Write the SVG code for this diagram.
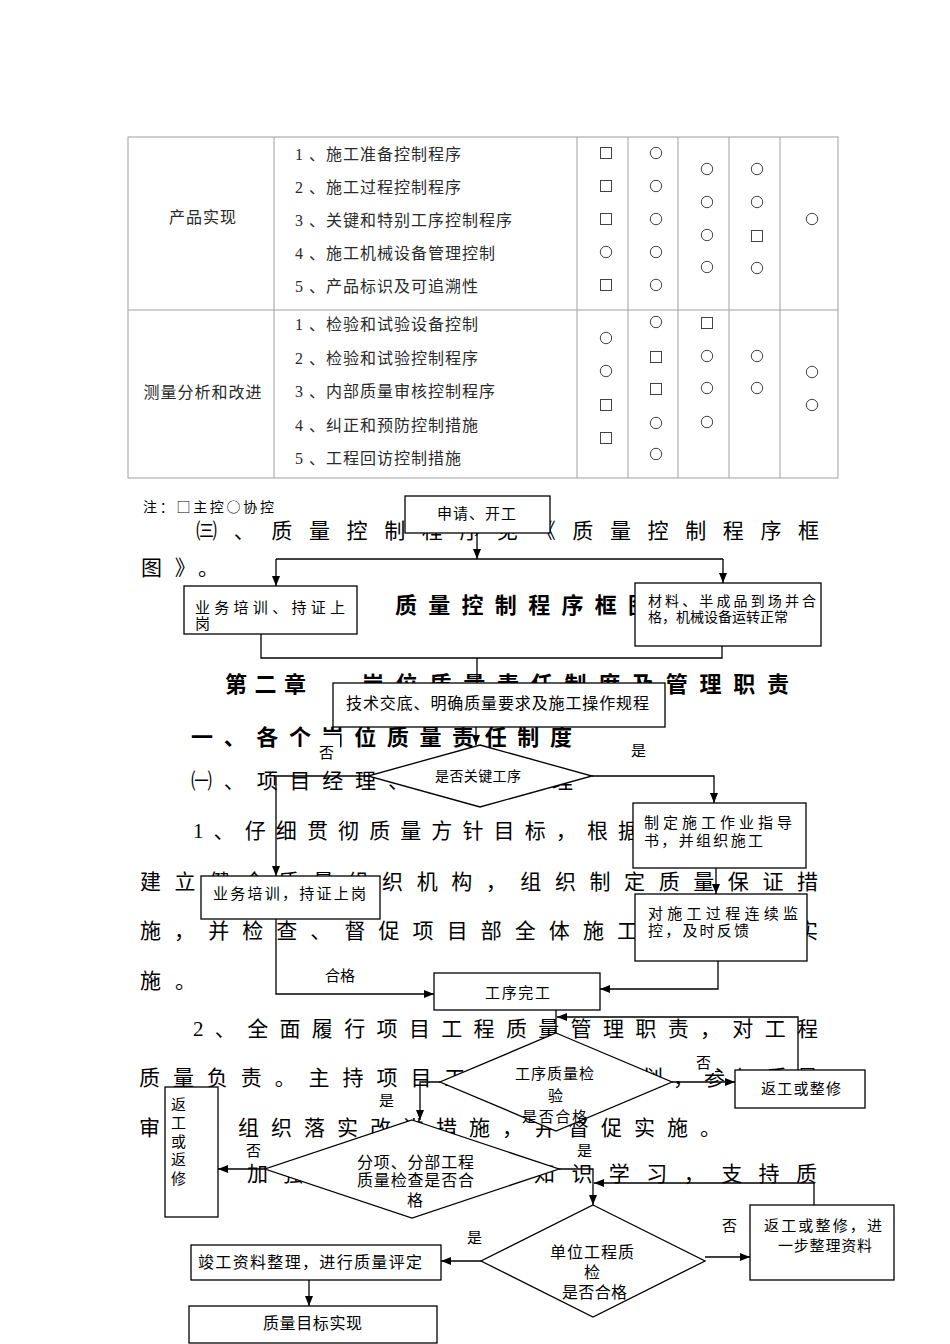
<svg xmlns="http://www.w3.org/2000/svg" width="950" height="1344" viewBox="0 0 950 1344">
<style>
.bg{fill:#fff}
.tl{stroke:#a0a0a0;stroke-width:1;fill:none}
.sym{stroke:#444;stroke-width:1;fill:none}
.tt{font-family:"Liberation Serif","Noto Sans CJK SC",sans-serif;font-size:16px;fill:#2a2a2a;letter-spacing:1px}
.body{font-family:"Liberation Serif","Noto Sans CJK SC",sans-serif;font-size:21px;fill:#000}
.bold{font-family:"Noto Sans CJK SC",sans-serif;font-size:22px;font-weight:bold;fill:#000}
.note{font-family:"Noto Sans CJK SC",sans-serif;font-size:14px;fill:#000}
.nd{fill:#fff;stroke:#000;stroke-width:1.3}
.ft{font-family:"Noto Sans CJK SC",sans-serif;font-size:15px;fill:#000}
.f14{font-size:14px}
.f16{font-size:16px}
.cn{fill:none;stroke:#000;stroke-width:1.3}
.lb{fill:#fff}
</style>
<defs>
<marker id="ah" viewBox="0 0 10 10" refX="10" refY="5" markerWidth="10" markerHeight="10" orient="auto" markerUnits="userSpaceOnUse"><path d="M0,1 L10,5 L0,9 z" fill="#000"/></marker>
<circle id="c" r="5.7" class="sym"/>
<rect id="s" x="-5.5" y="-5.5" width="11" height="11" class="sym"/>
</defs>
<rect class="bg" width="950" height="1344"/>

<g id="table">
<rect class="tl" x="128" y="137" width="710" height="341"/>
<line class="tl" x1="128" y1="310" x2="838" y2="310"/>
<line class="tl" x1="274" y1="137" x2="274" y2="478"/>
<line class="tl" x1="577" y1="137" x2="577" y2="478"/>
<line class="tl" x1="628" y1="137" x2="628" y2="478"/>
<line class="tl" x1="678" y1="137" x2="678" y2="478"/>
<line class="tl" x1="729" y1="137" x2="729" y2="478"/>
<line class="tl" x1="780" y1="137" x2="780" y2="478"/>
<text class="tt" x="203" y="223" text-anchor="middle">产品实现</text>
<text class="tt" x="203" y="398" text-anchor="middle">测量分析和改进</text>
<g>
<text class="tt" x="295" y="160">1</text><text class="tt" x="309" y="160">、施工准备控制程序</text>
<text class="tt" x="295" y="193">2</text><text class="tt" x="309" y="193">、施工过程控制程序</text>
<text class="tt" x="295" y="226">3</text><text class="tt" x="309" y="226">、关键和特别工序控制程序</text>
<text class="tt" x="295" y="259">4</text><text class="tt" x="309" y="259">、施工机械设备管理控制</text>
<text class="tt" x="295" y="292">5</text><text class="tt" x="309" y="292">、产品标识及可追溯性</text>
<text class="tt" x="295" y="330">1</text><text class="tt" x="309" y="330">、检验和试验设备控制</text>
<text class="tt" x="295" y="364">2</text><text class="tt" x="309" y="364">、检验和试验控制程序</text>
<text class="tt" x="295" y="397">3</text><text class="tt" x="309" y="397">、内部质量审核控制程序</text>
<text class="tt" x="295" y="431">4</text><text class="tt" x="309" y="431">、纠正和预防控制措施</text>
<text class="tt" x="295" y="464">5</text><text class="tt" x="309" y="464">、工程回访控制措施</text>
</g>
<g>
<use href="#s" x="606" y="153"/><use href="#s" x="606" y="186"/><use href="#s" x="606" y="219"/><use href="#c" x="606" y="252"/><use href="#s" x="606" y="285"/>
<use href="#c" x="606" y="338"/><use href="#c" x="606" y="371"/><use href="#s" x="606" y="405"/><use href="#s" x="606" y="438"/>
<use href="#c" x="656" y="153"/><use href="#c" x="656" y="186"/><use href="#c" x="656" y="219"/><use href="#c" x="656" y="252"/><use href="#c" x="656" y="285"/>
<use href="#c" x="656" y="322"/><use href="#s" x="656" y="357"/><use href="#s" x="656" y="389"/><use href="#c" x="656" y="423"/><use href="#c" x="656" y="454"/>
<use href="#c" x="707" y="169"/><use href="#c" x="707" y="202"/><use href="#c" x="707" y="235"/><use href="#c" x="707" y="267"/>
<use href="#s" x="707" y="323"/><use href="#c" x="707" y="356"/><use href="#c" x="707" y="388"/><use href="#c" x="707" y="422"/>
<use href="#c" x="757" y="169"/><use href="#c" x="757" y="202"/><use href="#s" x="757" y="236"/><use href="#c" x="757" y="268"/>
<use href="#c" x="757" y="356"/><use href="#c" x="757" y="388"/>
<use href="#c" x="812" y="219"/>
<use href="#c" x="812" y="372"/><use href="#c" x="812" y="405"/>
</g>
</g>

<g id="body-text">
<text class="note" x="143" y="512" textLength="131" lengthAdjust="spacing">注：□主控○协控</text>
<text class="body" x="196" y="538" textLength="623" lengthAdjust="spacing">㈢、质量控制程序见《质量控制程序框</text>
<text class="body" x="141" y="575" textLength="78" lengthAdjust="spacing">图》。</text>
<text class="bold" x="395" y="613" textLength="255" lengthAdjust="spacing">质量控制程序框图</text>
<text class="bold" x="225" y="692" textLength="81" lengthAdjust="spacing">第二章</text>
<text class="bold" x="362" y="692" textLength="427" lengthAdjust="spacing">岗位质量责任制度及管理职责</text>
<text class="bold" x="191" y="745" textLength="381" lengthAdjust="spacing">一、各个岗位质量责任制度</text>
<text class="body" x="191" y="788" textLength="382" lengthAdjust="spacing">㈠、项目经理、项目副经理</text>
<text class="body" x="193" y="838" textLength="446" lengthAdjust="spacing">1、仔细贯彻质量方针目标，根据</text>
<text class="body" x="140" y="889" textLength="678" lengthAdjust="spacing">建立健全质量组织机构，组织制定质量保证措</text>
<text class="body" x="140" y="938" textLength="498" lengthAdjust="spacing">施，并检查、督促项目部全体施工</text>
<text class="body" x="797" y="938">实</text>
<text class="body" x="140" y="988" textLength="56" lengthAdjust="spacing">施。</text>
<text class="body" x="193" y="1036" textLength="625" lengthAdjust="spacing">2、全面履行项目工程质量管理职责，对工程</text>
<text class="body" x="139" y="1085" textLength="462" lengthAdjust="spacing">质量负责。主持项目工程质量计</text>
<text class="body" x="642" y="1085" textLength="176" lengthAdjust="spacing">划，参加质量</text>
<text class="body" x="139" y="1135" textLength="582" lengthAdjust="spacing">审核，组织落实改进措施，并督促实施。</text>
<text class="body" x="247" y="1181" textLength="56" lengthAdjust="spacing">加强</text>
<text class="body" x="534" y="1181" textLength="283" lengthAdjust="spacing">知识学习，支持质</text>
</g>

<g id="connectors">
<line class="cn" x1="477" y1="533" x2="477" y2="559" marker-end="url(#ah)"/>
<line class="cn" x1="276" y1="559" x2="723" y2="559"/>
<line class="cn" x1="276" y1="559" x2="276" y2="586" marker-end="url(#ah)"/>
<line class="cn" x1="723" y1="559" x2="723" y2="583" marker-end="url(#ah)"/>
<polyline class="cn" points="261,634 261,658 722,658 722,646"/>
<line class="cn" x1="477" y1="658" x2="477" y2="683"/>
<line class="cn" x1="476" y1="727" x2="476" y2="745" marker-end="url(#ah)"/>
<polyline class="cn" points="368,776 276,776 276,876" marker-end="url(#ah)"/>
<polyline class="cn" points="592,776 714,776 714,803" marker-end="url(#ah)"/>
<line class="cn" x1="716" y1="868" x2="716" y2="894" marker-end="url(#ah)"/>
<polyline class="cn" points="276,919 276,994 434,994" marker-end="url(#ah)"/>
<polyline class="cn" points="718,961 718,989 600,989" marker-end="url(#ah)"/>
<line class="cn" x1="556" y1="1010" x2="556" y2="1033"/>
<polyline class="cn" points="798,1070 798,1017 557,1017" marker-end="url(#ah)"/>
<line class="cn" x1="672" y1="1082" x2="735" y2="1082" marker-end="url(#ah)"/>
<polyline class="cn" points="440,1082 420,1082 420,1120" marker-end="url(#ah)"/>
<line class="cn" x1="265" y1="1169" x2="218" y2="1169" marker-end="url(#ah)"/>
<polyline class="cn" points="559,1169 593,1169 593,1205" marker-end="url(#ah)"/>
<polyline class="cn" points="814,1205 814,1183 594,1183" marker-end="url(#ah)"/>
<line class="cn" x1="481" y1="1261" x2="441" y2="1261" marker-end="url(#ah)"/>
<line class="cn" x1="705" y1="1257" x2="750" y2="1257" marker-end="url(#ah)"/>
<line class="cn" x1="309" y1="1280" x2="309" y2="1306" marker-end="url(#ah)"/>
</g>

<g id="n-start"><rect class="nd" x="405" y="496" width="145" height="37"/>
<text class="ft" x="437" y="518.5" textLength="79" lengthAdjust="spacing">申请、开工</text></g>
<g id="n-train1"><rect class="nd" x="184" y="586" width="173" height="48"/>
<text class="ft" x="195" y="612.5" textLength="150" lengthAdjust="spacing">业务培训、持证上</text>
<text class="ft" x="195" y="628.5">岗</text></g>
<g id="n-material"><rect class="nd" x="635" y="583" width="186" height="63"/>
<text class="ft f14" x="648" y="606" textLength="168" lengthAdjust="spacing">材料、半成品到场并合</text>
<text class="ft f14" x="648" y="622">格，机械设备运转正常</text></g>
<g id="n-tech"><rect class="nd" x="333" y="683" width="332" height="44"/>
<text class="ft f16" x="346" y="708.5" textLength="303" lengthAdjust="spacing">技术交底、明确质量要求及施工操作规程</text></g>
<g id="n-key"><polygon class="nd" points="480,745 592,776 480,807 368,776"/>
<text class="ft f14" x="435" y="780.5" textLength="86" lengthAdjust="spacing">是否关键工序</text></g>
<g id="n-guide"><rect class="nd" x="633" y="803" width="173" height="65"/>
<text class="ft" x="644" y="827.5" textLength="148" lengthAdjust="spacing">制定施工作业指导</text>
<text class="ft" x="644" y="845.5" textLength="119" lengthAdjust="spacing">书，并组织施工</text></g>
<g id="n-train2"><rect class="nd" x="201" y="876" width="179" height="43"/>
<text class="ft" x="213" y="898.5" textLength="153" lengthAdjust="spacing">业务培训，持证上岗</text></g>
<g id="n-monitor"><rect class="nd" x="635" y="894" width="172" height="67"/>
<text class="ft" x="648" y="918.5" textLength="150" lengthAdjust="spacing">对施工过程连续监</text>
<text class="ft" x="648" y="935.5" textLength="101" lengthAdjust="spacing">控，及时反馈</text></g>
<g id="n-done"><rect class="nd" x="434" y="973" width="166" height="37"/>
<text class="ft" x="485" y="997.5" textLength="65" lengthAdjust="spacing">工序完工</text></g>
<g id="n-check1"><polygon class="nd" points="556,1033 672,1082 556,1131 440,1082"/>
<text class="ft" x="515" y="1078.5" textLength="79" lengthAdjust="spacing">工序质量检</text>
<text class="ft" x="548" y="1100.5">验</text>
<text class="ft" x="522" y="1121.5" textLength="65" lengthAdjust="spacing">是否合格</text></g>
<g id="n-rework1"><rect class="nd" x="735" y="1070" width="130" height="38"/>
<text class="ft" x="761" y="1093.5" textLength="80" lengthAdjust="spacing">返工或整修</text></g>
<g id="n-check2"><polygon class="nd" points="412,1120 559,1169 412,1218 265,1169"/>
<text class="ft f16" x="357" y="1167.5" textLength="117" lengthAdjust="spacing">分项、分部工程</text>
<text class="ft f16" x="357" y="1185.5" textLength="117" lengthAdjust="spacing">质量检查是否合</text>
<text class="ft f16" x="407" y="1205.5">格</text></g>
<g id="n-rework2"><rect class="nd" x="165" y="1087" width="53" height="130"/>
<text class="ft" x="171" y="1109.5">返</text>
<text class="ft" x="171" y="1128">工</text>
<text class="ft" x="171" y="1146.5">或</text>
<text class="ft" x="171" y="1165">返</text>
<text class="ft" x="171" y="1183.5">修</text></g>
<g id="n-check3"><polygon class="nd" points="593,1205 705,1261 593,1317 481,1261"/>
<text class="ft f16" x="550" y="1258" textLength="84" lengthAdjust="spacing">单位工程质</text>
<text class="ft f16" x="584" y="1278">检</text>
<text class="ft f16" x="562" y="1298" textLength="65" lengthAdjust="spacing">是否合格</text></g>
<g id="n-final"><rect class="nd" x="191" y="1245" width="250" height="35"/>
<text class="ft f16" x="198" y="1268" textLength="224" lengthAdjust="spacing">竣工资料整理，进行质量评定</text></g>
<g id="n-goal"><rect class="nd" x="189" y="1306" width="248" height="37"/>
<text class="ft f16" x="263" y="1329" textLength="99" lengthAdjust="spacing">质量目标实现</text></g>
<g id="n-rework3"><rect class="nd" x="750" y="1205" width="144" height="75"/>
<text class="ft" x="764" y="1231" textLength="118" lengthAdjust="spacing">返工或整修，进</text>
<text class="ft" x="778" y="1251" textLength="94" lengthAdjust="spacing">一步整理资料</text></g>

<g id="labels">
<rect class="lb" x="314" y="735" width="26" height="28"/><text class="ft" x="319" y="757.5">否</text>
<text class="ft" x="631" y="755.5">是</text>
<text class="ft" x="325" y="980.5" textLength="30" lengthAdjust="spacing">合格</text>
<rect class="lb" x="691" y="1049" width="24" height="24"/><text class="ft" x="696" y="1067.5">否</text>
<text class="ft" x="379" y="1105.5">是</text>
<text class="ft" x="246" y="1155.5">否</text>
<text class="ft" x="577" y="1155.5">是</text>
<text class="ft" x="467" y="1243">是</text>
<text class="ft" x="722" y="1231">否</text>
</g>
</svg>
